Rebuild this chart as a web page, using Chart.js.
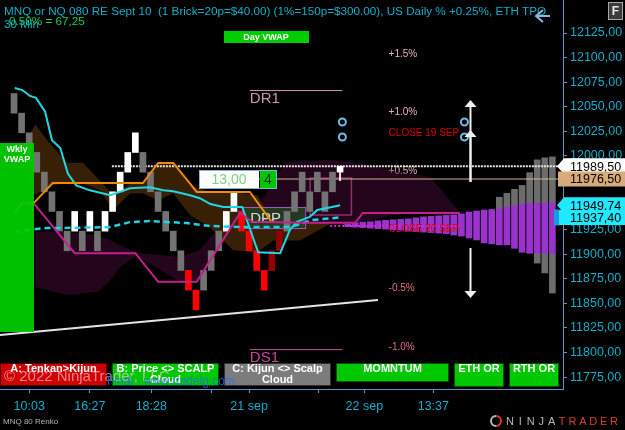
<!DOCTYPE html>
<html>
<head>
<meta charset="utf-8">
<title>MNQ 80 Renko</title>
<script src="https://cdn.jsdelivr.net/npm/chart.js@4.4.1/dist/chart.umd.min.js"></script>
<style>
  html, body { margin: 0; padding: 0; background: #000; overflow: hidden; }
  canvas { display: block; }
</style>
</head>
<body>
<canvas id="chart" width="625" height="430"></canvas>
<script>
// renko bricks (20 points each), x = brick number
const brickPos = [0,1,2,3,4,5,6,7,8,9,10,11,12,13,14,15,16,17,18,19,20,21,22,23,24,25,26,27,28,29,30,31,32,33,34,35,36,37,38,39,40,41,42,43];
const brickLow = [12043.5,12023.5,12003.5,11983.5,11963.5,11943.5,11923.5,11903.5,11923.5,11903.5,11923.5,11903.5,11923.5,11943.5,11963.5,11983.5,12003.5,11983.5,11963.5,11943.5,11923.5,11903.5,11883.5,11863.5,11843.5,11863.5,11883.5,11903.5,11923.5,11943.5,11923.5,11903.5,11883.5,11863.5,11883.5,11903.5,11923.5,11943.5,11963.5,11943.5,11963.5,11943.5,11963.5,11983.5];
const brickHigh = [12063.5,12043.5,12023.5,12003.5,11983.5,11963.5,11943.5,11923.5,11943.5,11923.5,11943.5,11923.5,11943.5,11963.5,11983.5,12003.5,12023.5,12003.5,11983.5,11963.5,11943.5,11923.5,11903.5,11883.5,11863.5,11883.5,11903.5,11923.5,11943.5,11963.5,11943.5,11923.5,11903.5,11883.5,11903.5,11923.5,11943.5,11963.5,11983.5,11963.5,11983.5,11963.5,11983.5,11989.5];
const brickKind = 'ggggggggwgwgwwwwwggggggrrgggwwrrrrddgggggggw'.split('');

// profile columns on the right
const profPos  = [44,45,46,47,48,49,50,51,52,53,54,55,56,57,58,59,60,61,62,63,64,65,66,67,68,69,70,71];
const profLow  = [11928,11927.5,11927,11926.5,11926,11925.5,11925,11924.5,11923.5,11923,11922.5,11922,11921.5,11921,11919.5,11918.5,11916.5,11914.5,11911.5,11910.5,11909.5,11909.5,11906,11902,11901,11901,11901,11901];
const profHigh = [11931,11932,11932.5,11933,11934,11934.5,11935,11935.5,11936,11937,11938,11938.5,11939,11939.5,11940,11941,11943,11944,11945,11945.5,11946,11948,11949,11951,11952,11952,11952,11952];
const profUpPos  = [64,65,66,67,68,69,70,71];
const profUpLow  = [11946,11948,11949,11951,11952,11952,11952,11952];
const profUpHigh = [11958,11962,11966,11970,11983,11996,11998,11999];
const profDnPos  = [69,70,71];
const profDnLow  = [11891,11881,11860.5];
const profDnHigh = [11901,11901,11901];

// indicator lines
const cyanX = [0.1,1.1,2.1,2.9,4.1,5.0,6.1,7.1,8.2,10.0,12.7,15.3,17.9,19.7,21.0,23.2,24.5,25.9,27.6,30.1,32.2,35.1,36.4,37.3,39.0,40.0,41.3,43.0];
const cyanY = [12069,12067,12061,12059,12045,12016,12008,11982,11970,11965,11960,11967,11968,11965,11964,11960,11957,11951,11948,11948,11902,11901,11925,11933,11938,11945,11947,11949.74];
const vwapX = [0.1,3.8,6.1,12.7,15.3,17.9,22.8,25.9,30.2,36.4,39.4,43.0];
const vwapY = [11922.6,11926.6,11926.6,11927.6,11932.7,11933.7,11931.7,11928.7,11927.6,11927.6,11934.8,11937.4];
const kijunX = [0.1,1.0,2.6,5.1,17.0,19.0,21.0,24.1,31.1,34.0];
const kijunY = [11942,11952,11952,11972.4,11972.4,11992.8,11992.8,11963.3,11963.3,11932.7];
const scalpX = [0.8,2.8,8.0,16.0,19.0,24.1,29.8,31.4,38.1,45.0,46.0,58.8];
const scalpY = [11952,11950,11901,11901,11872,11872,11942,11933,11932,11932,11942,11942];

// clouds
const brownX   = [1.5,2.8,4.7,7.0,9.1,11.3,13.1,15.3,17.0,19.0,21.0,23.2,25.9,28.9,32.1,34.2,37.7,41.7];
const brownTop = [12014,12032,12013,11993,11993,11975,11960,11972,11972,11993,11993,11970,11963,11963,11960,11933,11931,11933];
const brownBot = [11980,11960,11970,11972,11972,11965,11945,11962,11962,11955,11962,11940,11927,11904,11902,11914,11914,11931];
const plumX    = [2.8,7.0,11.0,12.7,14.0,16.2,19.3,21.9,24.5,26.5];
const plumTop  = [11922.6,11922.6,11919.5,11914.4,11909.3,11901.2,11899.2,11897.1,11904.2,11922.6];
const plumBot  = [11866.6,11858.5,11861.5,11873.7,11887,11898.1,11883.9,11871.7,11873.7,11904.2];
const plum2X   = [32.7,35.8,41.7,45.6,50.9,54.9,57.1,58.8];
const plum2Top = [11955.1,11993.8,11995.8,11992.8,11983.6,11978.5,11958.2,11942.9];
const plum2Bot = [11939.9,11929.7,11930.7,11931.7,11941.9,11941.9,11941.9,11941.9];

// trend line and price levels
const trendX = [-1.85, 48.0];
const trendY = [11817.8, 11853.4];
const lastPrice = 11989.5;
const orderPrice = 11976.5;
const tenkanLast = 11949.74;
const vwapLast = 11937.40;
const close19 = 12026.3;
const close20 = 11928.7;
const pctText = ['+1.5%', '+1.0%', '+0.5%', '-0.5%', '-1.0%'];
const pctPrice = [12107.6, 12048.0, 11988.3, 11869.1, 11809.4];
const dr1 = 12067.0, ds1 = 11803.5;
const dppTop = 11948.0, dppBot = 11926.6;

// axis ticks
const yTicks = [11775,11800,11825,11850,11875,11900,11925,11950,11975,12000,12025,12050,12075,12100,12125];
const xTickPos = [2.0, 10.0, 18.1, 26.1, 31.0, 40.1, 46.2, 55.3];
const xTickText = ['10:03', '16:27', '18:28', '', '21 sep', '', '22 sep', '13:37'];

const FONT = '"Liberation Sans", Arial, sans-serif';
const AXIS = '#5f95c4';
const TICKTXT = '#14aecb';
const brickColor = { g: '#737373', w: '#ffffff', r: '#ff0000', d: '#920000' };
const BROWN_FILL = 5; // dataset index of the brown cloud fill

const fmt = v => v.toFixed(2).replace('.', ',');
const pts = (xs, ys) => xs.map((x, i) => ({ x, y: ys[i] }));
const bars = (xs, lo, hi) => xs.map((x, i) => ({ x, y: [lo[i], hi[i]] }));

function edge(data, order) {
  return { type: 'line', data, borderWidth: 0, pointRadius: 0, fill: false, order };
}
function fillTo(data, color, order) {
  return { type: 'line', data, borderWidth: 0, pointRadius: 0, fill: '-1', backgroundColor: color, order };
}
function line(data, color, width, dash, order) {
  return { type: 'line', data, borderColor: color, borderWidth: width, borderDash: dash || [],
    pointRadius: 0, fill: false, tension: 0, order: order || 2 };
}

function txt(c, s, x, y, font, color, align) {
  c.font = font;
  c.fillStyle = color;
  c.textAlign = align || 'left';
  c.textBaseline = 'middle';
  c.fillText(s, x, y);
}

function button(c, x, y, w, h, fill, lines) {
  c.fillStyle = fill;
  c.fillRect(x, y, w, h);
  c.strokeStyle = 'rgba(0,0,0,0.6)';
  c.lineWidth = 1;
  c.strokeRect(x + 0.5, y + 0.5, w - 1, h - 1);
  lines.forEach((s, i) => txt(c, s, x + w / 2, y + 6 + i * 11, 'bold 11px ' + FONT, '#ffffff', 'center'));
}

const overlay = {
  id: 'overlay',
  beforeDraw(chart) {
    const c = chart.ctx;
    c.save();
    c.fillStyle = '#000';
    c.fillRect(0, 0, chart.width, chart.height);
    c.restore();
  },
  beforeDatasetsDraw(chart) {
    const c = chart.ctx, x = chart.scales.x, y = chart.scales.y;
    c.save();
    // pink range box
    const px0 = x.getPixelForValue(39.05), px1 = x.getPixelForValue(44.5);
    const py0 = y.getPixelForValue(11977.5), py1 = y.getPixelForValue(11939.9);
    c.strokeStyle = '#e0509f';
    c.lineWidth = 1.5;
    c.strokeRect(px0, py0, px1 - px0, py1 - py0);
    // pivots
    const lx0 = x.getPixelForValue(31.1), lx1 = x.getPixelForValue(43.3);
    c.lineWidth = 1;
    c.strokeStyle = '#d59aac';
    c.beginPath(); c.moveTo(lx0, y.getPixelForValue(dr1) + 0.5); c.lineTo(lx1, y.getPixelForValue(dr1) + 0.5); c.stroke();
    txt(c, 'DR1', lx0, y.getPixelForValue(dr1) + 9, '15px ' + FONT, '#c89aa8');
    c.strokeStyle = '#c8509a';
    c.beginPath(); c.moveTo(lx0, y.getPixelForValue(ds1) + 0.5); c.lineTo(lx1, y.getPixelForValue(ds1) + 0.5); c.stroke();
    txt(c, 'DS1', lx0, y.getPixelForValue(ds1) + 9, '15px ' + FONT, '#c845a0');
    // percent and close labels
    const tx = x.getPixelForValue(49.4);
    pctText.forEach((s, i) => {
      const col = s[0] === '+' ? '#e8b2ba' : '#e0707f';
      txt(c, s, tx, y.getPixelForValue(pctPrice[i]) + 4, '10px ' + FONT, col);
    });
    txt(c, 'CLOSE 19 SEP', tx, y.getPixelForValue(close19) + 3, '10px ' + FONT, '#e00000');
    c.restore();
  },
  afterDatasetDraw(chart, args) {
    if (args.index !== BROWN_FILL) return;
    // DPP box sits on top of the cloud, under the bricks
    const c = chart.ctx, x = chart.scales.x, y = chart.scales.y;
    c.save();
    const dx0 = x.getPixelForValue(30.1), dx1 = x.getPixelForValue(38.4);
    const dy0 = y.getPixelForValue(dppTop), dy1 = y.getPixelForValue(dppBot);
    c.fillStyle = 'rgba(38,62,32,0.9)';
    c.fillRect(dx0, dy0, dx1 - dx0, dy1 - dy0);
    c.strokeStyle = '#9a5cc8';
    c.lineWidth = 1;
    c.strokeRect(dx0 + 0.5, dy0 + 0.5, dx1 - dx0, dy1 - dy0);
    txt(c, 'DPP', dx0 + 8, (dy0 + dy1) / 2 + 1, '15px ' + FONT, '#dcdcdc');
    c.restore();
  },
  afterDatasetsDraw(chart) {
    const c = chart.ctx, x = chart.scales.x, y = chart.scales.y;
    c.save();
    txt(c, 'CLOSE 20 SEP', x.getPixelForValue(49.4), y.getPixelForValue(close20) + 3, '10px ' + FONT, '#e00000');
    // circles
    c.strokeStyle = '#78b8e2';
    c.lineWidth = 2;
    [[43.3, 12034.5], [43.3, 12019.2], [59.4, 12034.5], [59.4, 12019.2]].forEach(p => {
      c.beginPath();
      c.arc(x.getPixelForValue(p[0]), y.getPixelForValue(p[1]), 3.5, 0, Math.PI * 2);
      c.stroke();
    });
    // arrows
    const ax = Math.round(x.getPixelForValue(60.2)) + 0.5;
    const arrow = (from, to) => {
      const y0 = y.getPixelForValue(from), y1 = y.getPixelForValue(to);
      const d = y1 < y0 ? 1 : -1;
      c.strokeStyle = '#f0f0f0'; c.fillStyle = '#f0f0f0'; c.lineWidth = 2;
      c.beginPath(); c.moveTo(ax, y0); c.lineTo(ax, y1 + d * 5); c.stroke();
      c.beginPath(); c.moveTo(ax, y1); c.lineTo(ax - 6, y1 + d * 7); c.lineTo(ax + 6, y1 + d * 7); c.closePath(); c.fill();
    };
    arrow(11973.4, 12056.8);
    arrow(11973.4, 12026.3);
    arrow(11906.3, 11855.4);
    // order box on the tan line
    const oy = Math.round(y.getPixelForValue(orderPrice));
    c.fillStyle = '#ffffff';
    c.fillRect(199, oy - 9, 60, 19);
    c.strokeStyle = '#7fb6d8'; c.lineWidth = 1;
    c.strokeRect(199.5, oy - 8.5, 77, 18);
    txt(c, '13,00', 229, oy + 1, '14px ' + FONT, '#7ccf7c', 'center');
    c.fillStyle = '#00c800';
    c.fillRect(260, oy - 8, 16, 17);
    txt(c, '4', 268, oy + 1, '14px ' + FONT, '#0a2a0a', 'center');
    // weekly vwap tag
    c.fillStyle = 'rgba(0,205,0,0.94)';
    c.fillRect(0, 143, 34, 189);
    txt(c, 'Wkly', 17, 150, 'bold 9px ' + FONT, '#ffffff', 'center');
    txt(c, 'VWAP', 17, 160, 'bold 9px ' + FONT, '#ffffff', 'center');
    // day vwap tag
    c.fillStyle = '#00cc00';
    c.fillRect(224, 31, 85, 12);
    txt(c, 'Day VWAP', 266, 37.5, 'bold 9px ' + FONT, '#ffffff', 'center');
    // signal buttons
    button(c, 0, 363, 107, 23, '#d00000', ['A: Tenkan>Kijun']);
    button(c, 112, 363, 107, 23, '#00c800', ['B: Price <> SCALP', 'Cloud']);
    button(c, 224, 363, 107, 23, '#7c7c7c', ['C: Kijun <> Scalp', 'Cloud']);
    button(c, 336, 363, 113, 19, '#00c800', ['MOMNTUM']);
    button(c, 454, 363, 50, 24, '#00c800', ['ETH OR']);
    button(c, 509, 363, 50, 24, '#00c800', ['RTH OR']);
    txt(c, '\u00a9 2022 NinjaTrader, LLC', 4, 377, '15px ' + FONT, 'rgba(255,215,225,0.6)');
    txt(c, 'Final - www.tradelg.com', 107, 382, '12px ' + FONT, 'rgba(40,110,230,0.8)');
    c.restore();
  },
  afterDraw(chart) {
    const c = chart.ctx, y = chart.scales.y;
    c.save();
    // header
    txt(c, 'MNQ or NQ 080 RE Sept 10  (1 Brick=20p=$40.00) (1%=150p=$300.00), US Daily % +0.25%, ETH TPO', 4, 12, '11.7px ' + FONT, '#12b0c8');
    txt(c, '0.50% = 67,25', 9, 22, '11.7px ' + FONT, '#1ed04a');
    txt(c, '30 Min', 4, 25, '11.7px ' + FONT, '#12b0c8');
    // back arrow
    c.strokeStyle = '#8ab8e0'; c.lineWidth = 2;
    c.beginPath(); c.moveTo(550, 16); c.lineTo(536, 16); c.moveTo(543, 10); c.lineTo(536, 16); c.lineTo(543, 22); c.stroke();
    // F button
    c.fillStyle = '#3c3c3c'; c.fillRect(608, 2, 15, 18);
    c.strokeStyle = '#a8a8a8'; c.lineWidth = 1; c.strokeRect(608.5, 2.5, 14, 17);
    txt(c, 'F', 615.5, 11.5, 'bold 12px ' + FONT, '#e8e8e8', 'center');
    // price tags on the axis
    const tags = [
      { v: lastPrice, bg: '#ffffff', tip: true },
      { v: orderPrice, bg: '#d8ab7a', tip: false },
      { v: tenkanLast, bg: '#1fe8ff', tip: true },
      { v: vwapLast, bg: '#1fe8ff', tip: false, tab: '#169ce0' }
    ];
    tags.forEach(t => {
      const cy = y.getPixelForValue(t.v);
      c.fillStyle = t.bg;
      c.beginPath();
      if (t.tip) {
        c.moveTo(557, cy); c.lineTo(564, cy - 8); c.lineTo(625, cy - 8); c.lineTo(625, cy + 8); c.lineTo(564, cy + 8);
      } else {
        c.rect(558, cy - 7.5, 67, 15);
      }
      c.closePath(); c.fill();
      if (t.tab) { c.fillStyle = t.tab; c.fillRect(554, cy - 8, 5, 16); }
      txt(c, fmt(t.v), 570, cy + 1, '12.5px ' + FONT, '#000000');
    });
    // footer
    txt(c, 'MNQ 80 Renko', 3, 422, '8px ' + FONT, '#b4b4b4');
    c.lineWidth = 2;
    c.strokeStyle = '#b8b8b8';
    c.beginPath(); c.arc(496, 421, 5, Math.PI * 0.5, Math.PI * 1.5); c.stroke();
    c.strokeStyle = '#d8402a';
    c.beginPath(); c.arc(496, 421, 5, Math.PI * 1.5, Math.PI * 0.5); c.stroke();
    'NINJATRADER'.split('').forEach((ch, i) => {
      txt(c, ch, 510 + i * 10.4, 422, '11px ' + FONT, i < 5 ? '#b8b8b8' : '#d8402a', 'center');
    });
    c.restore();
  }
};

new Chart(document.getElementById('chart'), {
  type: 'bar',
  data: {
    datasets: [
      edge(pts(plumX, plumBot), 30),
      fillTo(pts(plumX, plumTop), 'rgba(70,10,55,0.5)', 30),
      edge(pts(plum2X, plum2Bot), 30),
      fillTo(pts(plum2X, plum2Top), 'rgba(70,10,55,0.5)', 30),
      edge(pts(brownX, brownBot), 25),
      fillTo(pts(brownX, brownTop), 'rgba(110,64,10,0.5)', 25),
      { type: 'bar', data: bars(profPos, profLow, profHigh), backgroundColor: '#9a32cc', barThickness: 6, grouped: false, order: 20 },
      { type: 'bar', data: bars(profUpPos, profUpLow, profUpHigh), backgroundColor: '#6c6c6c', barThickness: 6, grouped: false, order: 20 },
      { type: 'bar', data: bars(profDnPos, profDnLow, profDnHigh), backgroundColor: '#6c6c6c', barThickness: 6, grouped: false, order: 20 },
      line(pts([24.5, 72.4], [orderPrice, orderPrice]), '#cbb68c', 1, null, 15),
      line(pts([41.7, 58.8], [close20, close20]), '#e020e0', 2, [2, 2], 15),
      line(pts([12.9, 72.4], [lastPrice, lastPrice]), '#e8e8e8', 2, [2, 1], 15),
      { type: 'bar', data: bars(brickPos, brickLow, brickHigh), backgroundColor: brickKind.map(k => brickColor[k]), barThickness: 6, grouped: false, order: 10 },
      line(pts([43, 43], [11983.5, 11974.5]), '#ffffff', 1, null, 9),
      line(pts(scalpX, scalpY), '#c4208c', 2),
      line(pts(kijunX, kijunY), '#f08a00', 2),
      line(pts(vwapX, vwapY), '#19d4ea', 2.5, [6, 4]),
      line(pts(cyanX, cyanY), '#1ed8e4', 2),
      line(pts(trendX, trendY), '#e4e4e4', 2)
    ]
  },
  options: {
    responsive: false,
    animation: false,
    devicePixelRatio: 1,
    layout: { padding: 0 },
    plugins: { legend: { display: false }, tooltip: { enabled: false } },
    scales: {
      x: {
        type: 'linear', min: -1.85, max: 72.4, offset: false,
        grid: { drawOnChartArea: false, drawTicks: true, tickLength: 4, tickColor: AXIS, offset: false },
        border: { color: AXIS, width: 1 },
        ticks: { color: TICKTXT, font: { family: FONT, size: 12.5 }, padding: 6, autoSkip: false, maxRotation: 0,
          callback: (v, i) => xTickText[i] },
        afterBuildTicks: s => { s.ticks = xTickPos.map(v => ({ value: v })); },
        afterFit: s => { s.height = 41; s.paddingLeft = 0; s.paddingRight = 0; }
      },
      y: {
        type: 'linear', position: 'right', min: 11762.9, max: 12158.6,
        grid: { drawOnChartArea: false, drawTicks: true, tickLength: 4, tickColor: AXIS },
        border: { color: AXIS, width: 1 },
        ticks: { color: TICKTXT, font: { family: FONT, size: 12.5 }, padding: 3, callback: v => fmt(v) },
        afterBuildTicks: s => { s.ticks = yTicks.map(v => ({ value: v })); },
        afterFit: s => { s.width = 62; s.paddingTop = 0; s.paddingBottom = 0; }
      }
    }
  },
  plugins: [overlay]
});
</script>
</body>
</html>
